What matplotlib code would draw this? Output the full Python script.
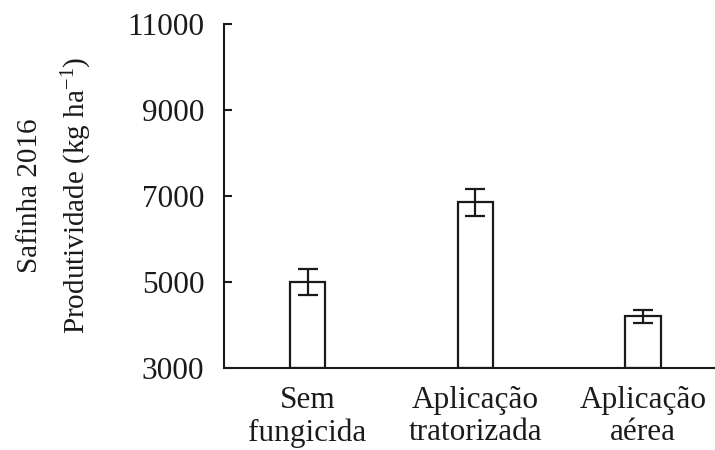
import numpy as np
import matplotlib
matplotlib.use("Agg")
import matplotlib.pyplot as plt
from matplotlib import rcParams

# data
categories = ["Sem\nfungicida", "Aplicação\ntratorizada", "Aplicação\naérea"]
produtividade = [5000, 6850, 4200]
erro = [300, 320, 150]
y_ticks = [3000, 5000, 7000, 9000, 11000]

font_size = 21
tick_font_size = 22.5

rcParams.update({
    "font.family": "Liberation Serif",
    "font.size": font_size,
    "mathtext.fontset": "custom",
    "mathtext.rm": "Liberation Serif",
    "mathtext.it": "Liberation Serif:italic",
})

fig = plt.figure(figsize=(7.15, 4.5), dpi=100)
ax = fig.add_axes([0.313, 0.182, 0.687, 0.765])

x = np.arange(len(categories))
base = y_ticks[0]
ax.bar(x, np.array(produtividade) - base, bottom=base, width=0.21,
       facecolor="white", edgecolor="#1a1a1a", linewidth=1.6, zorder=2)
ax.errorbar(x, produtividade, yerr=erro, fmt="none", ecolor="#1a1a1a",
            elinewidth=1.6, capsize=7.2, capthick=1.6, zorder=3)

ax.set_xlim(-0.5, 2.43)
ax.set_ylim(y_ticks[0], y_ticks[-1])
ax.set_yticks(y_ticks)
ax.set_yticklabels([str(v) for v in y_ticks], fontsize=tick_font_size)
ax.set_xticks(x)
ax.set_xticklabels(categories, linespacing=1.15, fontsize=tick_font_size)

# spines
ax.spines["right"].set_visible(False)
ax.spines["top"].set_visible(False)
ax.spines["left"].set_linewidth(1.5)
ax.spines["bottom"].set_linewidth(1.5)
ax.spines["left"].set_color("#1a1a1a")
ax.spines["bottom"].set_color("#1a1a1a")

ax.tick_params(axis="y", direction="in", length=6, width=1.5, pad=14, colors="#1a1a1a")
ax.tick_params(axis="x", length=0, pad=13, colors="#1a1a1a")

fig.text(30 / 715, 0.565, "Safinha 2016", rotation=90, ha="center", va="center",
         fontsize=font_size, color="#1a1a1a")
fig.text(77 / 715, 0.565, "Produtividade (kg ha$^{-1}$)", rotation=90, ha="center",
         va="center", fontsize=font_size, color="#1a1a1a")

plt.savefig("out.png", dpi=100)
plt.close()
